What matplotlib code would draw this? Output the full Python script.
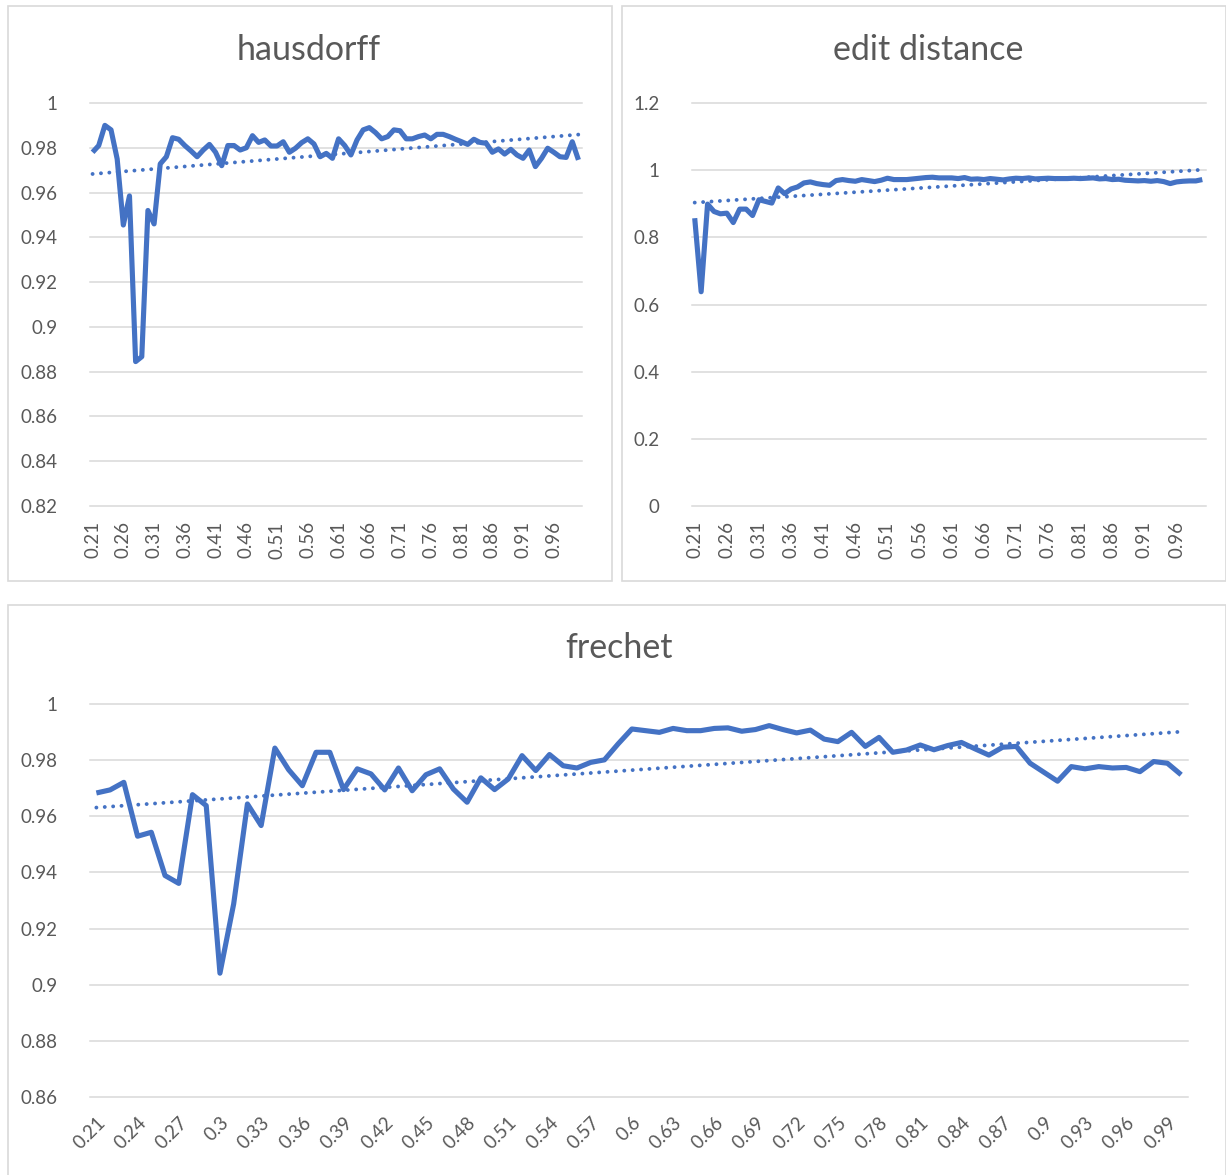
import numpy as np
import matplotlib
matplotlib.use("Agg")
import matplotlib.pyplot as plt
from matplotlib.patches import Rectangle

# ---- data ----
thresholds = [round(0.21 + 0.01 * k, 2) for k in range(80)]

hausdorff = [0.978, 0.981, 0.990, 0.988, 0.975, 0.9455, 0.9585, 0.8845, 0.8867, 0.952,
             0.946, 0.9728, 0.976, 0.9845, 0.9838, 0.981, 0.9786, 0.976, 0.979, 0.9815,
             0.978, 0.972, 0.981, 0.981, 0.979, 0.980, 0.9854, 0.9824, 0.9835, 0.9808,
             0.9808, 0.9827, 0.978, 0.9798, 0.9823, 0.984, 0.9817, 0.976, 0.9775, 0.9753,
             0.984, 0.981, 0.9768, 0.9835, 0.988, 0.989, 0.9868, 0.984, 0.985, 0.988,
             0.9876, 0.984, 0.984, 0.985, 0.9857, 0.984, 0.986, 0.986, 0.985, 0.9838,
             0.9827, 0.9815, 0.9838, 0.9824, 0.982, 0.978, 0.9795, 0.9772, 0.9793, 0.9768,
             0.9753, 0.979, 0.9716, 0.9753, 0.9798, 0.978, 0.976, 0.9757, 0.9827, 0.9746]

edit_distance = [0.857, 0.638, 0.899, 0.877, 0.870, 0.872, 0.844, 0.884, 0.884, 0.865,
                 0.912, 0.907, 0.902, 0.947, 0.930, 0.944, 0.950, 0.962, 0.965, 0.960,
                 0.957, 0.955, 0.969, 0.972, 0.969, 0.967, 0.972, 0.969, 0.966, 0.970,
                 0.976, 0.972, 0.972, 0.972, 0.974, 0.976, 0.978, 0.979, 0.977, 0.977,
                 0.977, 0.975, 0.978, 0.973, 0.974, 0.972, 0.975, 0.973, 0.971, 0.974,
                 0.976, 0.975, 0.977, 0.974, 0.975, 0.976, 0.975, 0.975, 0.975, 0.976,
                 0.975, 0.976, 0.977, 0.974, 0.975, 0.972, 0.973, 0.970, 0.969, 0.968,
                 0.969, 0.967, 0.969, 0.966, 0.960, 0.965, 0.967, 0.968, 0.968, 0.972]

frechet = [0.9683, 0.9694, 0.9721, 0.9529, 0.9543, 0.9389, 0.9361, 0.9677, 0.9638, 0.9041,
           0.9288, 0.9644, 0.9567, 0.9843, 0.9766, 0.9709, 0.9828, 0.9828, 0.9695, 0.9769,
           0.9751, 0.9694, 0.9772, 0.9691, 0.9748, 0.9769, 0.9697, 0.9650, 0.9737, 0.9695,
           0.9733, 0.9816, 0.9763, 0.9820, 0.9780, 0.9772, 0.9792, 0.9801, 0.9858, 0.9911,
           0.9905, 0.9899, 0.9913, 0.9905, 0.9905, 0.9913, 0.9915, 0.9903, 0.9909, 0.9923,
           0.9909, 0.9897, 0.9907, 0.9875, 0.9866, 0.9899, 0.9849, 0.9881, 0.9828, 0.9836,
           0.9854, 0.9837, 0.9852, 0.9863, 0.9840, 0.9818, 0.9846, 0.9849, 0.9789, 0.9757,
           0.9725, 0.9777, 0.9769, 0.9777, 0.9772, 0.9774, 0.9759, 0.9795, 0.9789, 0.9748]

haus_yticks = [0.82, 0.84, 0.86, 0.88, 0.9, 0.92, 0.94, 0.96, 0.98, 1]
edit_yticks = [0, 0.2, 0.4, 0.6, 0.8, 1, 1.2]
frec_yticks = [0.86, 0.88, 0.9, 0.92, 0.94, 0.96, 0.98, 1]

# ---- style ----
W, H = 1226, 1175
BLUE = "#4472C4"
GRID = "#D9D9D9"
TXT = "#595959"
FONT = ["Lato", "DejaVu Sans"]
plt.rcParams["font.family"] = FONT

fig = plt.figure(figsize=(W / 100, H / 100), dpi=100)


def px_axes(x0, y0, x1, y1):
    return fig.add_axes([x0 / W, 1 - y1 / H, (x1 - x0) / W, (y1 - y0) / H])


def box(x0, y0, x1, y1):
    fig.patches.append(Rectangle((x0 / W, 1 - y1 / H), (x1 - x0) / W, (y1 - y0) / H,
                                 transform=fig.transFigure, fill=False,
                                 edgecolor=GRID, lw=1.2, zorder=0))


def fmt(v):
    s = f"{v:.2f}".rstrip("0").rstrip(".")
    return s


def panel(ax, values, yticks, step, rot, title, title_xy, xpad):
    n = len(values)
    idx = np.arange(n)
    ax.plot(idx, values, color=BLUE, lw=3.7, solid_joinstyle="round",
            solid_capstyle="butt", zorder=3)
    coef = np.polyfit(idx, values, 1)
    ax.plot(idx, np.polyval(coef, idx), color=BLUE, lw=2.8,
            linestyle=(0, (0.01, 2.15)), dash_capstyle="round", zorder=2)
    ax.set_xlim(-0.5, n - 0.5)
    ax.set_ylim(yticks[0], yticks[-1])
    ax.set_yticks(yticks)
    ax.set_yticklabels([fmt(t) for t in yticks])
    for t in yticks:
        ax.axhline(t, color=GRID, lw=1.1, zorder=1, clip_on=False)
    ticks = idx[::step]
    ax.set_xticks(ticks)
    labels = [fmt(thresholds[i]) for i in ticks]
    if rot == 90:
        ax.set_xticklabels(labels, rotation=90, ha="center", va="top")
    else:
        ax.set_xticklabels(labels, rotation=45, ha="right", va="top",
                           rotation_mode="anchor")
    for s in ax.spines.values():
        s.set_visible(False)
    ax.tick_params(length=0, labelsize=13.5, labelcolor=TXT)
    ax.tick_params(axis="y", pad=23)
    ax.tick_params(axis="x", pad=xpad)
    fig.text(title_xy[0] / W, 1 - title_xy[1] / H, title, ha="center", va="center",
             fontsize=24.5, color=TXT)


box(7.5, 5.5, 611.5, 580.5)
box(621.5, 5.5, 1225.5, 580.5)
box(7.5, 604.5, 1225.5, 1190)

ax1 = px_axes(89.5, 103, 581.5, 506)
panel(ax1, hausdorff, haus_yticks, 5, 90, "hausdorff", (309, 50), 11)

ax2 = px_axes(691.5, 103, 1205.5, 506)
panel(ax2, edit_distance, edit_yticks, 5, 90, "edit distance", (928, 50), 11)

ax3 = px_axes(89.5, 704, 1188, 1097)
panel(ax3, frechet, frec_yticks, 3, 45, "frechet", (619, 648), 12)

fig.savefig("out.png", dpi=100)
